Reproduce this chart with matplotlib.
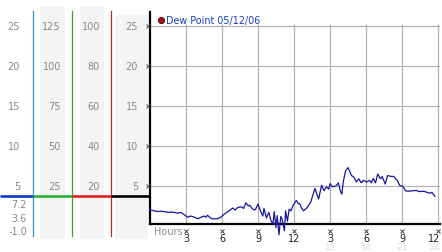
import matplotlib
matplotlib.use("Agg")
import matplotlib.pyplot as plt
from matplotlib.transforms import blended_transform_factory
import numpy as np

# ---------------- data ----------------
hours = [0.0, 0.08, 0.33, 0.64, 0.9, 1.17, 1.4, 1.58, 1.8, 2.0, 2.3, 2.58, 2.86, 3.14, 3.4, 3.7,
         4.0, 4.25, 4.53, 4.65, 4.8, 4.95, 5.2, 5.6, 5.9, 6.2, 6.5, 6.9, 7.1, 7.3, 7.6, 7.8,
         8.0, 8.2, 8.3, 8.5, 8.7, 8.8, 9.0, 9.2, 9.4, 9.5, 9.7, 9.9, 10.1, 10.25, 10.35, 10.5,
         10.6, 10.75, 10.9, 11.0, 11.2, 11.3, 11.45, 11.6, 11.75, 11.9, 12.1, 12.2, 12.35,
         12.5, 12.6, 12.8, 13.1, 13.4, 13.6, 13.75, 13.9, 14.06, 14.2, 14.3, 14.5, 14.7, 14.9,
         15.0, 15.2, 15.5, 15.7, 15.9, 16.0, 16.1, 16.3, 16.5, 16.65, 16.8, 17.0, 17.2, 17.4,
         17.6, 17.8, 18.06, 18.3, 18.45, 18.6, 18.8, 18.98, 19.2, 19.35, 19.6, 19.8, 20.1,
         20.3, 20.6, 20.8, 21.1, 21.3, 21.5, 21.9, 22.2, 22.4, 22.8, 23.1, 23.35, 23.5, 23.75]
dew_point = [2.1, 2.0, 1.9, 1.8, 1.85, 1.8, 1.75, 1.7, 1.75, 1.7, 1.6, 1.7, 1.4, 1.1, 1.25, 1.1,
             0.9, 1.1, 1.25, 1.1, 1.35, 1.1, 0.9, 0.9, 1.1, 1.5, 1.8, 2.25, 2.0, 2.3, 2.4, 2.2,
             2.9, 2.5, 2.6, 2.2, 2.0, 2.1, 2.75, 1.9, 1.25, 2.2, 1.0, 1.7, 0.6, 0.25, 1.8, -0.2,
             1.3, -1.1, 1.2, 0.9, -0.6, 1.9, 0.6, 2.1, 1.9, 2.5, 3.0, 3.2, 2.8, 2.75, 2.3, 1.9,
             2.3, 3.0, 4.0, 4.7, 4.0, 3.4, 4.4, 5.1, 4.4, 4.9, 4.6, 5.3, 4.9, 5.0, 5.4, 4.2,
             4.0, 5.5, 6.9, 7.3, 6.8, 6.3, 6.1, 5.5, 5.9, 5.4, 5.7, 5.5, 5.7, 5.4, 5.95, 5.4,
             6.5, 5.9, 6.2, 5.25, 6.3, 6.2, 6.2, 5.7, 5.1, 4.9, 4.4, 4.35, 4.4, 4.45, 4.3, 4.35,
             4.2, 4.1, 4.2, 3.7]

x_ticks = [3, 6, 9, 12, 15, 18, 21, 24]
x_tick_labels = ["3", "6", "9", "12", "3", "6", "9", "12"]
x_sub_labels = ["15", "18", "21", "24"]
y_ticks = [5, 10, 15, 20, 25]
scale1 = ["5", "10", "15", "20", "25"]
scale2 = ["25", "50", "75", "100", "125"]
scale3 = ["20", "40", "60", "80", "100"]
scale4 = ["5", "10", "15", "20", "25"]
lower_labels = ["7.2", "3.6", "-1.0"]
legend_label = "Dew Point 05/12/06"

W, H = 442, 253
fig = plt.figure(figsize=(W / 100, H / 100), dpi=100)

# background / pixel-space axes
bg = fig.add_axes([0, 0, 1, 1], zorder=0)
bg.set_xlim(0, W)
bg.set_ylim(H, 0)
bg.axis("off")

# main axes
ax = fig.add_axes([150 / W, (H - 225) / H, (440 - 150) / W, (225 - 13) / H], zorder=2)
ax.patch.set_alpha(0)
ax.set_xlim(0, 24.17)
ax.set_ylim(0.25, 26.75)
for s in ["top", "right"]:
    ax.spines[s].set_visible(False)
for s in ["left", "bottom"]:
    ax.spines[s].set_linewidth(1.6)
    ax.spines[s].set_color("black")
ax.set_xticks([])
ax.set_yticks([])

grid_c = "#b4b4b4"
ax.hlines(y_ticks, 0, 24.17, color=grid_c, lw=0.9, zorder=1)
ax.vlines(x_ticks, 0.25, 25.25, color=grid_c, lw=0.9, zorder=1)

ax.plot(hours, dew_point, color="#1616a0", lw=0.9, clip_on=False, zorder=3)

# gray column bands
bands = [(40, 65, 7), (80, 104, 7), (115, 148, 16)]
for x0, x1, top in bands:
    bg.add_patch(plt.Rectangle((x0, top), x1 - x0, 240 - top, color="#f4f4f4", lw=0))

ybl = blended_transform_factory(bg.transData, ax.transData)
lab_c = "#888888"
fs = 7
for vals, xr in [(scale1, 20), (scale2, 61), (scale3, 100), (scale4, 138)]:
    for yv, lab in zip(y_ticks, vals):
        fig.text(xr, yv, lab, transform=ybl, ha="right", va="center",
                 fontsize=fs, color=lab_c)

# marker ticks on y axis
ax.plot([-0.2] * len(y_ticks), y_ticks, ls="none", marker="x", ms=2.2, mew=0.7,
        color="#404040", clip_on=False, zorder=4)

# lower scale labels in the first column
for yy, lab in zip([205, 219, 232], lower_labels):
    bg.text(27, yy, lab, ha="right", va="center", fontsize=fs, color=lab_c)

# colored vertical scale lines
thr = 3.75
for xv, c in [(33, "#2f95d4"), (72, "#3a9e3a"), (111, "#b52a2a")]:
    bg.plot([xv, xv], [12, 237], color=c, lw=0.9, zorder=2)
# colored horizontal threshold line
for (x0, x1), c in zip([(0, 33), (33, 72), (72, 111), (111, 150)],
                       ["#1038d0", "#2eb02e", "#e02020", "#000000"]):
    fig.add_artist(plt.Line2D([x0, x1], [thr, thr], transform=ybl, color=c,
                              lw=1.9, solid_capstyle="butt", zorder=3))

# x tick labels and markers
xbl = blended_transform_factory(ax.transData, bg.transData)
n = len(x_ticks)
for i, (xv, lab) in enumerate(zip(x_ticks, x_tick_labels)):
    last = i == n - 1
    fig.text(xv + (0.17 if last else 0), 241.8, lab, transform=xbl,
             ha="right" if last else "center", va="baseline",
             fontsize=7, color="#202020")
    fig.add_artist(plt.Line2D([xv], [231.5], transform=xbl, ls="none", marker="x",
                              ms=2.2, mew=0.7, color="#404040"))
m = len(x_sub_labels)
for i, (xv, lab) in enumerate(zip(x_ticks[4:], x_sub_labels)):
    last = i == m - 1
    fig.text(xv + (0.17 if last else 0), 249.6, lab, transform=xbl,
             ha="right" if last else "center", va="baseline",
             fontsize=6.2, color="#dcdcdc")
bg.text(154, 232.5, "Hours", ha="left", va="center", fontsize=7, color="#909090")

# legend
bg.plot([161], [20.5], marker="o", ms=4.5, color="#a01010", mec="#500000", mew=0.6)
bg.text(166, 20.5, legend_label, ha="left", va="center", fontsize=6.9, color="#1a3cc8")

fig.savefig("out.png", dpi=100)
